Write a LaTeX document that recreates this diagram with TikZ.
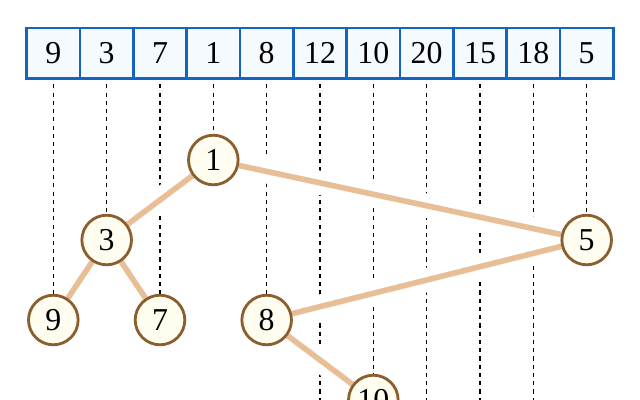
\documentclass[tikz,border=0pt]{standalone}
\usepackage{fontspec}
\setmainfont{Liberation Serif}
\usepackage{tikz}
\usetikzlibrary{backgrounds}

\definecolor{cellblue}{RGB}{21,101,192}
\definecolor{cellfill}{RGB}{245,250,255}
\definecolor{treebrown}{RGB}{139,94,45}
\definecolor{treefill}{RGB}{255,253,240}
\definecolor{edgetan}{RGB}{232,190,150}

\begin{document}
\begin{tikzpicture}
    [
      x=1cm,
      y=1cm,
      font=\fontsize{17}{20}\selectfont,
      cell/.style={rectangle,draw=cellblue,fill=cellfill,line width=1.3pt,minimum width=1cm,minimum height=0.95cm,inner sep=0pt,outer sep=0pt},
      key/.style={circle,draw=treebrown,fill=treefill,line width=1.5pt,minimum size=0.93cm,inner sep=0pt},
      guide/.style={black,line width=0.6pt,dash pattern=on 2.2pt off 2.2pt,shorten <=3pt},
      halo/.style={white,line width=0.45cm},
      link/.style={edgetan,line width=3pt},
    ]
    \useasboundingbox (0,0) rectangle (12,-7.5);
    \coordinate (bottom) at (0,-7.8);

    \node at (1, -1)  [cell] (a1) {9};
    \node at (2, -1)  [cell] (a2) {3};
    \node at (3, -1)  [cell] (a3) {7};
    \node at (4, -1)  [cell] (a4) {1};
    \node at (5, -1)  [cell] (a5) {8};
    \node at (6, -1)  [cell] (a6) {12};
    \node at (7, -1)  [cell] (a7) {10};
    \node at (8, -1)  [cell] (a8) {20};
    \node at (9, -1)  [cell] (a9) {15};
    \node at (10, -1) [cell] (a10) {18};
    \node at (11, -1) [cell] (a11) {5};

    \node at (4, -3)    [key] (k1) {1};
    \node at (2, -4.5)  [key] (k3) {3};
    \node at (11, -4.5) [key] (k5) {5};
    \node at (1, -6)    [key] (k9) {9};
    \node at (3, -6)    [key] (k7) {7};
    \node at (5, -6)    [key] (k8) {8};
    \node at (7, -7.5)  [key] (k10) {10};

    \begin{scope}[on background layer]
      \draw[guide] (a1.south) -- (k9.north);
      \draw[guide] (a2.south) -- (k3.north);
      \draw[guide] (a3.south) -- (k7.north);
      \draw[guide] (a4.south) -- (k1.north);
      \draw[guide] (a5.south) -- (k8.north);
      \draw[guide] (a6.south) -- (a6.south |- bottom);
      \draw[guide] (a7.south) -- (k10.north);
      \draw[guide] (a8.south) -- (a8.south |- bottom);
      \draw[guide] (a9.south) -- (a9.south |- bottom);
      \draw[guide] (a10.south) -- (a10.south |- bottom);
      \draw[guide] (a11.south) -- (k5.north);

      \draw[halo] (k1) -- (k3);
      \draw[halo] (k1) -- (k5);
      \draw[halo] (k3) -- (k9);
      \draw[halo] (k3) -- (k7);
      \draw[halo] (k5) -- (k8);
      \draw[halo] (k8) -- (k10);

      \draw[link] (k1) -- (k3);
      \draw[link] (k1) -- (k5);
      \draw[link] (k3) -- (k9);
      \draw[link] (k3) -- (k7);
      \draw[link] (k5) -- (k8);
      \draw[link] (k8) -- (k10);
    \end{scope}
  \end{tikzpicture}
\end{document}
